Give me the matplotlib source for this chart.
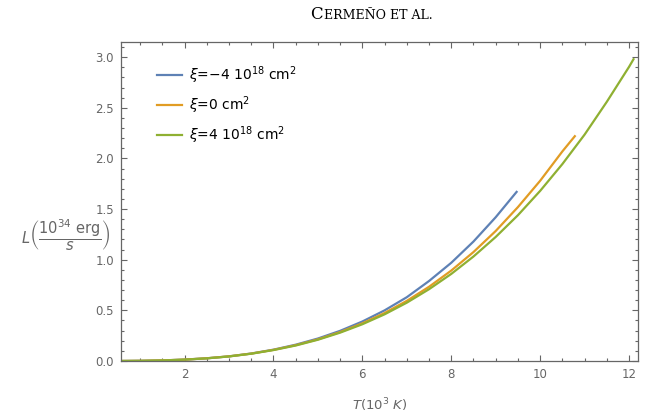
import matplotlib.pyplot as plt
import numpy as np
from matplotlib.ticker import MultipleLocator
from matplotlib.offsetbox import TextArea, HPacker, AnchoredOffsetbox

plt.rcParams['mathtext.fontset'] = 'dejavusans'

# readings from the reference (T in 10^3 K, L in 10^34 erg/s)
t_neg = [0.6, 1.0, 1.5, 2.0, 2.5, 3.0, 3.5, 4.0, 4.5, 5.0, 5.5, 6.0, 6.5, 7.0, 7.5, 8.0, 8.5, 9.0, 9.47]
l_neg = [0.0004, 0.0017, 0.0058, 0.014, 0.027, 0.046, 0.074, 0.112, 0.161, 0.222, 0.298,
         0.39, 0.50, 0.63, 0.79, 0.97, 1.18, 1.42, 1.67]

t_zero = [0.6, 1.0, 1.5, 2.0, 2.5, 3.0, 3.5, 4.0, 4.5, 5.0, 5.5, 6.0, 6.5, 7.0, 7.5, 8.0, 8.5, 9.0, 9.5, 10.0, 10.5, 10.78]
l_zero = [0.0004, 0.0017, 0.0058, 0.0137, 0.027, 0.046, 0.073, 0.11, 0.156, 0.214, 0.286,
          0.372, 0.474, 0.594, 0.733, 0.893, 1.076, 1.284, 1.52, 1.78, 2.07, 2.22]

t_pos = [0.6, 1.0, 1.5, 2.0, 2.5, 3.0, 3.5, 4.0, 4.5, 5.0, 5.5, 6.0, 6.5, 7.0, 7.5, 8.0, 8.5, 9.0, 9.5, 10.0, 10.5, 11.0, 11.5, 12.0, 12.1]
l_pos = [0.0004, 0.0017, 0.0057, 0.0135, 0.026, 0.045, 0.072, 0.108, 0.153, 0.21, 0.28,
         0.363, 0.461, 0.576, 0.709, 0.86, 1.032, 1.225, 1.44, 1.68, 1.945, 2.236, 2.56, 2.905, 2.98]

labels = [r'$\xi$=−4 10$^{18}$ cm$^2$', r'$\xi$=0 cm$^2$', r'$\xi$=4 10$^{18}$ cm$^2$']
colors = ['#5E81B5', '#E19C24', '#8FB032']

gray = '#666666'

fig = plt.figure(figsize=(6.57, 4.16), dpi=100)
ax = fig.add_axes([0.1842, 0.1322, 0.7868, 0.7668])

ax.plot(t_neg, l_neg, color=colors[0], lw=1.6, label=labels[0])
ax.plot(t_zero, l_zero, color=colors[1], lw=1.6, label=labels[1])
ax.plot(t_pos, l_pos, color=colors[2], lw=1.6, label=labels[2])

ax.set_xlim(0.57, 12.2)
ax.set_ylim(0, 3.15)

ax.xaxis.set_major_locator(MultipleLocator(2))
ax.xaxis.set_minor_locator(MultipleLocator(0.5))
ax.yaxis.set_major_locator(MultipleLocator(0.5))
ax.yaxis.set_minor_locator(MultipleLocator(0.1))
ax.yaxis.set_major_formatter(plt.FormatStrFormatter('%.1f'))

ax.tick_params(which='both', direction='in', top=True, right=True, color=gray,
               labelcolor=gray, labelsize=8.5, width=0.8)
ax.tick_params(which='major', length=4.5, pad=5)
ax.tick_params(which='minor', length=2.5)
for s in ax.spines.values():
    s.set_color(gray)
    s.set_linewidth(0.9)

ax.set_xlabel(r'$T(10^3\ K)$', color=gray, fontsize=9.5, labelpad=11)
fig.text(0.032, 0.435, r'$L\left(\dfrac{10^{34}\ \mathrm{erg}}{s}\right)$', color=gray,
         fontsize=10.5, ha='left', va='center')

leg = ax.legend(loc='upper left', bbox_to_anchor=(0.045, 0.97), frameon=False,
                fontsize=10, handlelength=1.8, handletextpad=0.5, labelspacing=0.6)

# small caps header
big = TextArea('C', textprops=dict(family='DejaVu Serif', size=12))
small = TextArea('ERMEÑO ET AL.', textprops=dict(family='DejaVu Serif', size=9))
box = HPacker(children=[big, small], align='baseline', pad=0, sep=0.5)
anch = AnchoredOffsetbox(loc='center', child=box, frameon=False,
                         bbox_to_anchor=(0.565, 0.965), bbox_transform=fig.transFigure)
fig.add_artist(anch)

fig.savefig('out.png', dpi=100)
